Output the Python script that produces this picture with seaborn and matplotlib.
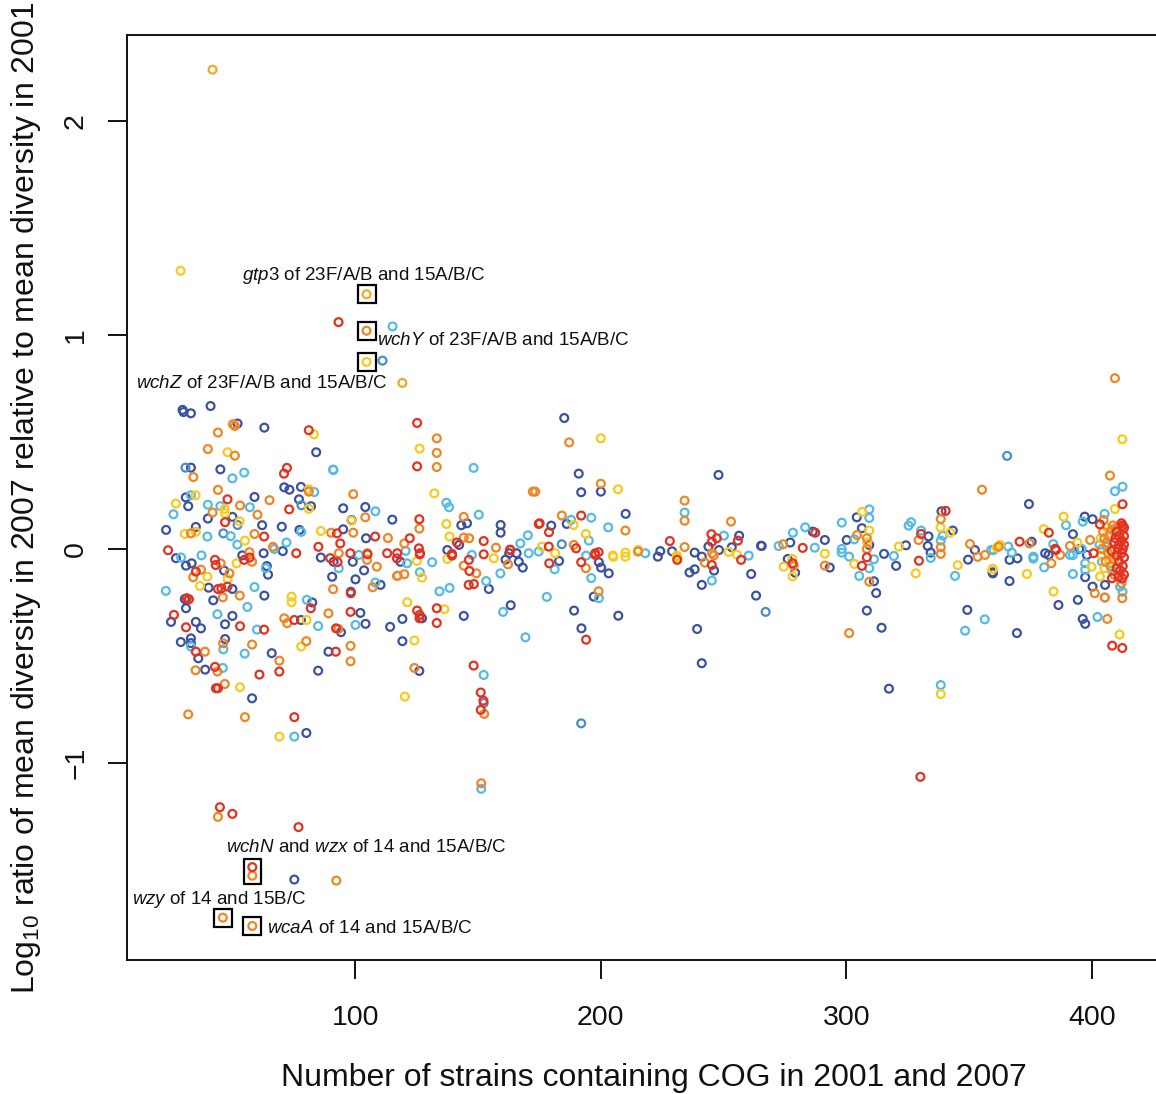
import numpy as np
import pandas as pd
import matplotlib
matplotlib.use("Agg")
import matplotlib.pyplot as plt
from matplotlib.path import Path
import seaborn as sns

# (number of strains containing the COG, log10 diversity ratio 2007/2001), grouped by colour class
dark_blue = [
    (30.1, 0.64), (33.1, 0.634), (41.1, 0.668), (52.1, 0.586), (63.0, 0.567), (84.1, 0.452), (33.1, 0.38),
    (45.1, 0.372), (71.1, 0.288), (73.2, 0.277), (77.9, 0.29), (31.0, 0.241), (32.0, 0.20), (59.0, 0.243),
    (77.1, 0.232), (82.0, 0.20), (40.0, 0.142), (50.0, 0.15), (62.1, 0.111), (70.1, 0.104), (77.3, 0.089),
    (23.0, 0.089), (35.1, 0.103), (29.7, 0.65),
    (27.0, -0.043), (31.1, -0.078), (33.4, -0.067), (46.6, -0.101), (40.3, -0.181), (50.0, -0.187),
    (63.0, -0.218), (30.6, -0.234), (31.1, -0.277), (42.2, -0.24), (82.5, -0.25), (25.0, -0.341),
    (35.1, -0.341), (37.2, -0.371), (50.0, -0.313), (47.0, -0.352), (77.9, -0.332), (33.1, -0.418),
    (29.0, -0.435), (33.1, -0.44), (36.1, -0.511), (47.0, -0.421), (66.0, -0.487), (89.1, -0.48),
    (38.9, -0.564), (84.9, -0.569), (58.0, -0.698), (80.1, -0.86), (75.2, -1.545), (62.7, -0.02),
    (64.0, -0.08), (64.5, -0.12), (54.0, -0.03), (70.5, -0.01), (86.0, -0.04),
    (95.1, 0.19), (104.1, 0.196), (98.5, 0.135), (115.1, 0.137), (143.2, 0.111), (145.5, 0.12),
    (159.2, 0.112), (159.2, 0.076), (95.1, 0.092), (104.4, 0.05), (142.3, 0.019),
    (127.2, -0.324), (144.2, -0.313), (163.3, -0.263), (119.2, -0.327), (114.2, -0.364), (119.2, -0.431),
    (102.1, -0.299), (104.2, -0.35), (94.2, -0.389), (126.1, -0.57), (100.1, -0.142), (98.2, -0.2),
    (110.3, -0.168), (154.4, -0.187), (168.2, -0.087), (166.6, -0.06), (161.2, -0.05), (91.2, -0.06),
    (99.0, -0.06), (103.6, -0.1), (118.4, -0.06), (137.5, -0.005), (162.7, -0.02), (165.7, -0.02),
    (90.6, -0.13),
    (185.1, 0.612), (191.0, 0.352), (200.0, 0.268), (192.0, 0.265), (247.9, 0.346), (186.1, 0.117),
    (179.8, 0.109), (210.1, 0.164), (224.2, -0.01), (229.0, -0.011), (238.2, -0.017), (241.1, -0.036),
    (243.8, 0.011), (248.1, -0.005), (253.3, 0.008), (256.3, 0.062), (265.2, 0.015),
    (189.1, -0.288), (192.1, -0.371), (207.1, -0.312), (197.1, -0.223), (203.2, -0.114), (200.1, -0.087),
    (199.2, -0.062), (183.0, -0.056), (223.2, -0.036), (236.1, -0.11), (238.2, -0.095), (241.1, -0.168),
    (239.2, -0.374), (241.1, -0.534), (246.1, -0.101), (261.2, -0.117), (263.2, -0.218),
    (338.7, 0.176), (343.3, 0.086), (333.4, 0.059), (333.1, 0.014), (334.3, -0.017), (324.2, 0.017),
    (320.2, -0.079), (315.3, -0.023), (304.2, 0.148), (306.3, 0.097), (309.3, 0.019), (311.2, -0.151),
    (312.1, -0.206), (308.3, -0.288), (314.3, -0.368), (300.1, 0.042), (291.2, 0.042), (293.2, -0.087),
    (286.3, 0.081), (277.1, 0.03), (265.5, 0.014), (276.1, -0.047), (279.1, -0.111), (317.3, -0.653),
    (349.2, -0.285), (352.3, -0.005), (349.5, -0.05), (359.5, -0.109),
    (374.3, 0.21), (400.2, 0.139), (397.0, 0.151), (392.2, 0.069), (375.4, 0.034), (394.8, -0.001),
    (380.9, -0.02), (382.3, -0.028), (366.4, -0.051), (369.6, -0.044), (359.6, -0.114), (366.4, -0.15),
    (386.3, -0.262), (394.2, -0.238), (397.2, -0.132), (400.2, -0.176), (397.2, -0.35), (396.2, -0.327),
    (369.4, -0.393), (405.3, -0.168), (397.9, -0.028),
]

mid_blue = [
    (111.1, 0.88), (192.0, -0.815), (365.4, 0.435), (267.1, -0.294), (46.3, 0.073), (78.1, 0.204),
    (30.9, 0.38), (52.1, 0.112), (184.1, 0.022), (152.3, -0.72),
]

light_blue = [
    (115.2, 1.04), (26.0, 0.162), (40.0, 0.207), (45.1, 0.20), (57.1, 0.195), (50.0, 0.33), (54.8, 0.357),
    (91.1, 0.369), (83.3, 0.266), (33.1, 0.251), (39.8, 0.058), (49.3, 0.06), (67.0, 0.0), (78.0, 0.08),
    (22.9, -0.196), (59.0, -0.178), (56.1, -0.271), (80.3, -0.238), (43.9, -0.305), (60.0, -0.377),
    (84.9, -0.36), (33.1, -0.456), (46.3, -0.469), (55.0, -0.489), (46.1, -0.556), (75.2, -0.877),
    (151.3, -1.121), (63.6, -0.09), (37.4, -0.03), (29.1, -0.04), (52.0, 0.02), (72.0, 0.03),
    (148.2, 0.379), (91.0, 0.371), (137.1, 0.216), (138.2, 0.195), (108.2, 0.176), (150.3, 0.16),
    (170.3, 0.064), (167.2, 0.026), (147.5, -0.028),
    (160.2, -0.294), (169.3, -0.413), (100.1, -0.355), (152.3, -0.589), (108.2, -0.157), (126.3, -0.109),
    (134.3, -0.198), (138.4, -0.182), (153.3, -0.15), (159.1, -0.114), (131.3, -0.062), (170.6, -0.02),
    (174.7, -0.012), (93.3, -0.09), (121.1, -0.067), (120.5, -0.009), (101.5, -0.028),
    (196.1, 0.146), (187.9, 0.136), (203.0, 0.101), (195.1, 0.039), (234.1, 0.17), (250.1, 0.062),
    (218.1, -0.02), (260.2, -0.031),
    (178.0, -0.224), (199.2, -0.23), (196.1, -0.136), (181.2, -0.095), (194.0, -0.031), (245.2, -0.148),
    (339.2, 0.062), (338.4, 0.039), (330.4, 0.086), (334.3, -0.042), (325.3, 0.109), (326.3, 0.125),
    (319.3, -0.033), (309.3, 0.185), (309.3, 0.145), (303.2, 0.045), (309.3, -0.09), (311.2, -0.048),
    (305.2, -0.126), (298.1, 0.123), (298.1, 0.0), (298.1, -0.017), (301.1, -0.036), (287.1, 0.006),
    (283.2, 0.101), (278.2, 0.076), (272.4, 0.014), (338.4, -0.636), (356.3, -0.329), (348.3, -0.382),
    (358.9, -0.005), (344.2, -0.126),
    (412.4, 0.291), (409.3, 0.27), (389.4, 0.111), (405.1, 0.164), (396.2, 0.128), (409.3, 0.089),
    (384.2, 0.023), (359.9, -0.005), (365.9, 0.011), (367.3, -0.017), (376.1, -0.036), (392.2, -0.028),
    (376.1, -0.045), (380.5, -0.086), (392.2, -0.117), (402.2, -0.318), (405.2, -0.227), (412.4, -0.2),
    (411.4, -0.176), (397.2, -0.098), (397.2, -0.067), (395.8, 0.0), (391.0, -0.028),
    (406.0, 0.01), (403.0, 0.02), (404.0, -0.06), (408.0, -0.1),
]

yellow = [
    (28.9, 1.30), (104.6, 0.874), (83.2, 0.536), (48.0, 0.452), (81.1, 0.279), (35.0, 0.251), (27.0, 0.212),
    (81.1, 0.188), (46.8, 0.187), (47.0, 0.167), (52.9, 0.129), (86.0, 0.084), (30.6, 0.07), (35.1, 0.08),
    (55.1, 0.039),
    (51.7, -0.067), (39.8, -0.129), (36.8, -0.173), (48.0, -0.14), (74.1, -0.223), (74.1, -0.249),
    (80.2, -0.332), (78.0, -0.456), (53.1, -0.646), (69.1, -0.877), (120.2, -0.69),
    (126.2, 0.469), (132.2, 0.26), (98.4, 0.132), (137.1, 0.117), (138.4, 0.058),
    (121.2, -0.249), (136.3, -0.282), (124.1, -0.428), (127.2, -0.134), (137.5, -0.047), (156.4, -0.044),
    (125.1, -0.056),
    (200.0, 0.517), (207.0, 0.279), (188.9, 0.112), (193.9, 0.07), (176.0, 0.011), (181.4, -0.02),
    (204.9, -0.031), (210.0, -0.017), (215.3, -0.005), (230.9, -0.031), (252.0, -0.014), (255.4, -0.026),
    (205.1, -0.037), (210.0, -0.036), (231.1, -0.041),
    (338.3, 0.101), (342.2, 0.076), (328.2, -0.114), (321.3, 0.011), (306.4, 0.173), (309.3, 0.086),
    (308.5, 0.03), (303.2, -0.07), (291.2, -0.022), (278.0, -0.047), (274.4, -0.083), (278.1, -0.128),
    (338.4, -0.678), (361.2, 0.006), (345.3, -0.076), (359.4, -0.095),
    (412.3, 0.513), (409.3, 0.187), (388.4, 0.151), (380.3, 0.093), (394.0, 0.03), (362.5, 0.019),
    (373.5, -0.117), (359.6, -0.093), (384.3, -0.199), (411.2, -0.40), (403.2, -0.129), (399.8, -0.083),
    (406.0, 0.1), (407.0, -0.05), (405.0, -0.09), (408.0, 0.0), (404.0, -0.03), (403.5, 0.05),
]

gold = [(41.9, 2.24), (104.6, 1.19), (119.2, 0.776)]

orange = [
    (104.6, 1.02), (50.2, 0.583), (44.1, 0.544), (40.0, 0.467), (51.0, 0.436), (34.1, 0.336), (44.1, 0.276),
    (81.1, 0.268), (65.1, 0.228), (53.1, 0.203), (41.9, 0.17), (60.2, 0.16), (90.2, 0.076), (33.1, 0.073),
    (59.0, 0.07), (51.0, 0.575), (66.5, 0.01), (58.0, -0.06),
    (34.0, -0.132), (37.2, -0.097), (45.2, -0.067), (48.8, -0.114), (56.9, -0.015), (53.0, -0.218),
    (46.1, -0.226), (71.1, -0.324), (72.3, -0.347), (89.1, -0.301), (46.2, -0.441), (38.8, -0.48),
    (58.0, -0.447), (69.1, -0.522), (80.1, -0.431), (35.0, -0.567), (43.9, -0.573), (46.9, -0.631),
    (32.0, -0.773), (55.1, -0.786), (44.1, -1.252), (58.1, -1.527), (92.3, -1.55), (58.1, -1.762),
    (46.1, -1.723),
    (133.2, 0.517), (133.2, 0.449), (133.2, 0.383), (99.2, 0.256), (172.3, 0.268), (104.1, 0.148),
    (126.1, 0.095), (144.2, 0.15), (99.2, 0.076), (113.3, 0.051), (120.0, 0.026), (144.2, 0.053),
    (146.4, 0.05), (157.3, 0.006), (104.9, -0.02), (93.3, -0.02),
    (93.1, -0.374), (98.1, -0.453), (98.1, -0.525), (124.1, -0.556), (107.1, -0.179), (117.3, -0.125),
    (120.0, -0.118), (144.2, -0.078), (149.3, -0.114), (162.2, -0.072), (91.0, -0.188), (104.8, -0.051),
    (117.0, -0.126), (108.8, -0.083), (151.3, -1.095), (152.5, -0.771),
    (187.1, 0.498), (200.0, 0.305), (173.3, 0.268), (234.1, 0.226), (234.1, 0.132), (253.0, 0.128),
    (184.1, 0.156), (210.0, 0.086), (189.0, 0.019), (234.1, 0.009), (245.3, -0.02),
    (199.1, -0.198), (193.9, -0.09), (215.1, -0.012), (242.3, -0.064), (246.0, -0.03),
    (355.2, 0.277), (338.4, 0.14), (338.4, 0.008), (338.4, -0.023), (329.4, 0.042), (304.3, 0.065),
    (308.3, 0.05), (308.3, 0.0), (309.3, -0.153), (301.1, -0.393), (291.2, -0.078), (274.2, 0.022),
    (278.5, -0.079), (350.3, 0.023), (353.4, -0.037), (356.4, -0.028), (362.0, 0.011),
    (409.3, 0.798), (407.3, 0.343), (404.7, 0.136), (374.5, 0.026), (391.0, 0.014), (399.2, 0.042),
    (387.0, -0.028), (383.4, -0.067), (405.2, -0.227), (406.2, -0.327), (401.1, -0.207), (412.3, -0.23),
    (407.0, 0.06), (408.0, 0.09), (406.0, 0.03), (409.0, -0.05), (407.5, -0.08), (406.5, -0.02),
    (405.0, 0.05), (404.0, 0.0), (408.5, 0.11), (410.0, 0.1), (412.8, 0.09), (409.0, -0.12),
    (405.5, -0.06), (412.0, -0.16), (404.5, 0.08),
]

red = [
    (93.2, 1.06), (81.1, 0.555), (72.2, 0.379), (71.0, 0.352), (48.0, 0.232), (73.1, 0.185), (47.0, 0.125),
    (62.9, 0.058), (57.0, -0.04), (76.0, -0.02), (85.0, 0.01),
    (23.8, -0.006), (35.1, -0.106), (42.9, -0.051), (43.2, -0.075), (44.1, -0.187), (45.5, -0.184),
    (48.0, -0.176), (54.8, -0.051), (31.4, -0.23), (32.3, -0.235), (81.9, -0.277), (26.2, -0.308),
    (31.1, -0.366), (53.1, -0.361), (62.9, -0.377), (75.2, -0.332), (92.2, -0.371), (35.1, -0.48),
    (42.9, -0.551), (61.0, -0.587), (69.1, -0.573), (43.3, -0.651), (44.1, -0.651), (75.2, -0.786),
    (44.9, -1.207), (50.0, -1.238), (76.9, -1.30), (58.1, -1.487), (151.1, -0.671), (152.2, -0.709),
    (151.1, -0.752),
    (125.2, 0.589), (125.2, 0.386), (126.1, 0.139), (174.7, 0.117), (108.1, 0.058), (122.2, 0.05),
    (141.4, 0.03), (152.3, 0.037), (163.1, -0.005), (92.6, 0.073), (93.9, 0.026), (113.0, -0.02),
    (117.1, -0.02), (125.9, 0.003), (126.4, -0.02), (98.0, -0.02), (139.4, -0.023), (152.3, -0.025),
    (125.2, -0.288), (126.2, -0.308), (126.2, -0.324), (133.2, -0.277), (133.2, -0.346), (98.1, -0.294),
    (92.1, -0.48), (148.2, -0.545), (98.2, -0.207), (146.2, -0.168), (148.3, -0.164), (146.5, -0.103),
    (146.3, -0.051), (139.4, -0.031), (163.1, -0.003), (89.8, -0.043), (92.8, -0.062), (117.0, -0.044),
    (126.3, -0.025), (105.0, -0.025),
    (192.0, 0.156), (175.1, 0.12), (178.9, 0.078), (189.9, 0.003), (178.8, 0.011), (197.7, -0.02),
    (228.1, 0.037), (245.0, 0.069), (247.2, 0.05), (245.2, 0.034), (255.8, 0.039),
    (194.0, -0.424), (192.0, -0.062), (197.7, -0.028), (199.1, -0.015), (179.0, -0.067), (231.1, -0.051),
    (245.2, -0.075), (257.1, -0.051),
    (340.4, 0.178), (330.4, 0.07), (329.5, -0.055), (308.3, -0.039), (306.3, -0.079), (287.3, 0.076),
    (282.2, 0.005), (278.1, -0.067), (330.1, -1.065),
    (412.4, 0.209), (382.4, 0.076), (403.2, 0.115), (412.4, 0.109), (370.5, 0.034), (385.3, -0.005),
    (408.2, -0.452), (412.3, -0.463), (408.1, -0.137), (412.3, -0.137), (400.6, -0.02), (385.0, 0.001),
    (410.0, 0.08), (411.0, 0.06), (412.0, 0.04), (413.0, 0.02), (410.5, 0.0), (412.0, -0.02),
    (413.0, -0.04), (411.0, -0.06), (412.5, -0.08), (410.0, -0.03), (409.0, 0.03), (413.0, 0.1),
    (412.0, 0.12), (411.5, -0.1), (413.0, -0.12), (410.0, -0.09), (409.5, 0.05), (408.0, -0.01),
    (412.5, 0.0), (411.0, 0.02), (413.0, 0.06), (410.8, -0.13),
]

palette = {
    "dark_blue": "#3B52A3",
    "mid_blue": "#4A8CCD",
    "light_blue": "#55BBE4",
    "yellow": "#F9C91D",
    "gold": "#F6A71F",
    "orange": "#F08524",
    "red": "#E3321F",
}
groups = {
    "dark_blue": dark_blue, "mid_blue": mid_blue, "light_blue": light_blue,
    "yellow": yellow, "gold": gold, "orange": orange, "red": red,
}

# highlighted genes and their labels (text, x, y)
boxed_single = [(104.6, 1.19), (104.6, 1.02), (104.6, 0.874), (46.1, -1.723), (58.1, -1.762)]
boxed_pair = [(58.1, -1.487), (58.1, -1.527)]
labels = [
    (r"$\mathit{gtp3}$ of 23F/A/B and 15A/B/C", 54.0, 1.276),
    (r"$\mathit{wchY}$ of 23F/A/B and 15A/B/C", 109.0, 0.972),
    (r"$\mathit{wchZ}$ of 23F/A/B and 15A/B/C", 10.9, 0.771),
    (r"$\mathit{wchN}$ and $\mathit{wzx}$ of 14 and 15A/B/C", 47.2, -1.393),
    (r"$\mathit{wzy}$ of 14 and 15B/C", 9.3, -1.636),
    (r"$\mathit{wcaA}$ of 14 and 15A/B/C", 64.2, -1.776),
]

rows = []
for name, pts in groups.items():
    for sx, sy in pts:
        rows.append({"strains": sx, "ratio": sy, "group": name})
df = pd.DataFrame(rows)

sns.set_style("ticks")
plt.rcParams["font.family"] = ["Liberation Sans", "DejaVu Sans"]
plt.rcParams["mathtext.fontset"] = "custom"
plt.rcParams["mathtext.rm"] = "Liberation Sans"
plt.rcParams["mathtext.it"] = "Liberation Sans:italic"

W, H = 1156, 1094
fig = plt.figure(figsize=(W / 100, H / 100), dpi=100)
ax = fig.add_axes([127.3 / W, 1 - 960 / H, (1180 - 127.3) / W, 925 / H])

sns.scatterplot(data=df, x="strains", y="ratio", hue="group", palette=palette,
                s=32, linewidth=1.6, legend=False, ax=ax)
# open rings: move hue colours to the edges
pts = ax.collections[0]
fc = pts.get_facecolors()
pts.set_edgecolors(fc)
pts.set_facecolors("none")

bx = [p[0] for p in boxed_single]
by = [p[1] for p in boxed_single]
ax.plot(bx, by, ls="none", marker="s", ms=12.5, mfc="none", mec="black", mew=1.6)
tall = Path([(-0.68, -1), (0.68, -1), (0.68, 1), (-0.68, 1), (-0.68, -1)],
            [Path.MOVETO, Path.LINETO, Path.LINETO, Path.LINETO, Path.CLOSEPOLY])
ax.plot([np.mean([p[0] for p in boxed_pair])], [np.mean([p[1] for p in boxed_pair])],
        ls="none", marker=tall, ms=18, mfc="none", mec="black", mew=1.6)

for txt, tx, ty in labels:
    ax.text(tx, ty, txt, fontsize=13.5, ha="left", va="center", color="#111111")

ax.set_xlim(7.2, 435.8)
ax.set_ylim(-1.921, 2.402)
ax.set_xticks([100, 200, 300, 400])
ax.set_yticks([-1, 0, 1, 2])
ax.tick_params(axis="both", direction="out", length=13.5, width=1.4, labelsize=20.5,
               color="#111111", labelcolor="#111111")
ax.tick_params(axis="x", pad=19)
ax.tick_params(axis="y", pad=14)
for lab in ax.get_yticklabels():
    lab.set_rotation(90)
    lab.set_va("center")

for side in ["left", "bottom", "top"]:
    ax.spines[side].set_linewidth(1.4)
    ax.spines[side].set_color("#111111")
ax.spines["right"].set_visible(False)

ax.set_xlabel("Number of strains containing COG in 2001 and 2007", fontsize=23, color="#111111")
ax.set_ylabel(r"Log$_{10}$ ratio of mean diversity in 2007 relative to mean diversity in 2001",
              fontsize=23, color="#111111")
ax.xaxis.set_label_coords(0.5, -0.111)
ax.yaxis.set_label_coords(-0.080, 0.5)

fig.savefig("out.png", dpi=100)
